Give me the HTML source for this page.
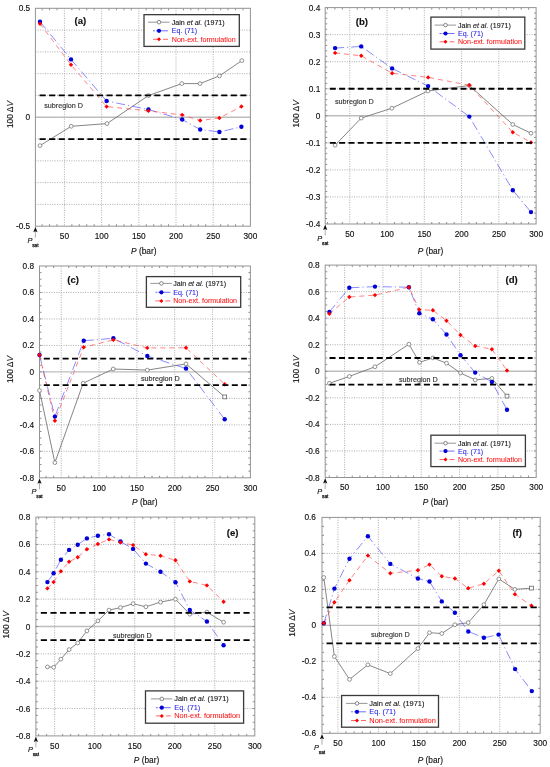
<!DOCTYPE html>
<html><head><meta charset="utf-8"><title>Figure</title>
<style>
html,body{margin:0;padding:0;background:#fff;}
body{width:550px;height:767px;overflow:hidden;}
svg{display:block;will-change:transform;font-family:"Liberation Sans", sans-serif;}
text{stroke-width:0.14px;}
</style></head>
<body>
<svg width="550" height="767" viewBox="0 0 550 767">
<rect width="550" height="767" fill="#fff"/>
<clipPath id="clip_a"><rect x="35.4" y="8.3" width="215" height="217.9"/></clipPath>
<line x1="64.41" y1="8.3" x2="64.41" y2="226.2" stroke="#a4a4a4" stroke-width="0.9" stroke-dasharray="1 1.4"/>
<line x1="101.61" y1="8.3" x2="101.61" y2="226.2" stroke="#a4a4a4" stroke-width="0.9" stroke-dasharray="1 1.4"/>
<line x1="138.81" y1="8.3" x2="138.81" y2="226.2" stroke="#a4a4a4" stroke-width="0.9" stroke-dasharray="1 1.4"/>
<line x1="176.01" y1="8.3" x2="176.01" y2="226.2" stroke="#a4a4a4" stroke-width="0.9" stroke-dasharray="1 1.4"/>
<line x1="213.2" y1="8.3" x2="213.2" y2="226.2" stroke="#a4a4a4" stroke-width="0.9" stroke-dasharray="1 1.4"/>
<line x1="35.4" y1="204.41" x2="250.4" y2="204.41" stroke="#a4a4a4" stroke-width="0.9" stroke-dasharray="1 1.4"/>
<line x1="35.4" y1="182.62" x2="250.4" y2="182.62" stroke="#a4a4a4" stroke-width="0.9" stroke-dasharray="1 1.4"/>
<line x1="35.4" y1="160.83" x2="250.4" y2="160.83" stroke="#a4a4a4" stroke-width="0.9" stroke-dasharray="1 1.4"/>
<line x1="35.4" y1="139.04" x2="250.4" y2="139.04" stroke="#a4a4a4" stroke-width="0.9" stroke-dasharray="1 1.4"/>
<line x1="35.4" y1="95.46" x2="250.4" y2="95.46" stroke="#a4a4a4" stroke-width="0.9" stroke-dasharray="1 1.4"/>
<line x1="35.4" y1="73.67" x2="250.4" y2="73.67" stroke="#a4a4a4" stroke-width="0.9" stroke-dasharray="1 1.4"/>
<line x1="35.4" y1="51.88" x2="250.4" y2="51.88" stroke="#a4a4a4" stroke-width="0.9" stroke-dasharray="1 1.4"/>
<line x1="35.4" y1="30.09" x2="250.4" y2="30.09" stroke="#a4a4a4" stroke-width="0.9" stroke-dasharray="1 1.4"/>
<line x1="35.4" y1="117.25" x2="250.4" y2="117.25" stroke="#bdbdbd" stroke-width="1.4"/>
<path d="M42.1 226.2v-2M42.1 8.3v2M49.53 226.2v-2M49.53 8.3v2M56.97 226.2v-2M56.97 8.3v2M71.85 226.2v-2M71.85 8.3v2M79.29 226.2v-2M79.29 8.3v2M86.73 226.2v-2M86.73 8.3v2M94.17 226.2v-2M94.17 8.3v2M109.05 226.2v-2M109.05 8.3v2M116.49 226.2v-2M116.49 8.3v2M123.93 226.2v-2M123.93 8.3v2M131.37 226.2v-2M131.37 8.3v2M146.25 226.2v-2M146.25 8.3v2M153.69 226.2v-2M153.69 8.3v2M161.13 226.2v-2M161.13 8.3v2M168.57 226.2v-2M168.57 8.3v2M183.44 226.2v-2M183.44 8.3v2M190.88 226.2v-2M190.88 8.3v2M198.32 226.2v-2M198.32 8.3v2M205.76 226.2v-2M205.76 8.3v2M220.64 226.2v-2M220.64 8.3v2M228.08 226.2v-2M228.08 8.3v2M235.52 226.2v-2M235.52 8.3v2M242.96 226.2v-2M242.96 8.3v2" stroke="#707070" stroke-width="0.8" fill="none"/>
<rect x="35.4" y="8.3" width="215" height="217.9" fill="none" stroke="#939393" stroke-width="1.0"/>
<g clip-path="url(#clip_a)">
<polyline points="40,145.6 71.2,126.3 107,123.6 148.4,95.6 181.8,83.6 200,83.6 219.4,75.9 241.8,60.6" fill="none" stroke="#666" stroke-width="0.8"/>
<polyline points="40,21.7 71,59.4 106.6,101 148.4,109.5 182.2,119.5 200.2,129.5 219.4,132 241.4,126.8" fill="none" stroke="#4a4aff" stroke-width="0.65" stroke-dasharray="9 3 1.2 3"/>
<polyline points="40,23.7 71,64.8 106.6,106.6 148.4,110.9 182.2,114.9 200.2,120.5 219.4,118 241.4,106.5" fill="none" stroke="#ff4040" stroke-width="0.65" stroke-dasharray="5 4"/>
</g>
<circle cx="40" cy="145.6" r="1.9" fill="#fff" stroke="#707070" stroke-width="0.75"/>
<circle cx="71.2" cy="126.3" r="1.9" fill="#fff" stroke="#707070" stroke-width="0.75"/>
<circle cx="107" cy="123.6" r="1.9" fill="#fff" stroke="#707070" stroke-width="0.75"/>
<circle cx="148.4" cy="95.6" r="1.9" fill="#fff" stroke="#707070" stroke-width="0.75"/>
<circle cx="181.8" cy="83.6" r="1.9" fill="#fff" stroke="#707070" stroke-width="0.75"/>
<circle cx="200" cy="83.6" r="1.9" fill="#fff" stroke="#707070" stroke-width="0.75"/>
<circle cx="219.4" cy="75.9" r="1.9" fill="#fff" stroke="#707070" stroke-width="0.75"/>
<circle cx="241.8" cy="60.6" r="1.9" fill="#fff" stroke="#707070" stroke-width="0.75"/>
<circle cx="40" cy="21.7" r="2.2" fill="#0000d8"/>
<circle cx="71" cy="59.4" r="2.2" fill="#0000d8"/>
<circle cx="106.6" cy="101" r="2.2" fill="#0000d8"/>
<circle cx="148.4" cy="109.5" r="2.2" fill="#0000d8"/>
<circle cx="182.2" cy="119.5" r="2.2" fill="#0000d8"/>
<circle cx="200.2" cy="129.5" r="2.2" fill="#0000d8"/>
<circle cx="219.4" cy="132" r="2.2" fill="#0000d8"/>
<circle cx="241.4" cy="126.8" r="2.2" fill="#0000d8"/>
<path d="M40 21.5L42.2 23.7L40 25.9L37.8 23.7Z" fill="#ff0000"/>
<path d="M71 62.6L73.2 64.8L71 67L68.8 64.8Z" fill="#ff0000"/>
<path d="M106.6 104.4L108.8 106.6L106.6 108.8L104.4 106.6Z" fill="#ff0000"/>
<path d="M148.4 108.7L150.6 110.9L148.4 113.1L146.2 110.9Z" fill="#ff0000"/>
<path d="M182.2 112.7L184.4 114.9L182.2 117.1L180 114.9Z" fill="#ff0000"/>
<path d="M200.2 118.3L202.4 120.5L200.2 122.7L198 120.5Z" fill="#ff0000"/>
<path d="M219.4 115.8L221.6 118L219.4 120.2L217.2 118Z" fill="#ff0000"/>
<path d="M241.4 104.3L243.6 106.5L241.4 108.7L239.2 106.5Z" fill="#ff0000"/>
<line x1="39.56" y1="95.46" x2="246.9" y2="95.46" stroke="#000" stroke-width="1.8" stroke-dasharray="6.12 3.44"/>
<line x1="39.56" y1="139.04" x2="246.9" y2="139.04" stroke="#000" stroke-width="1.8" stroke-dasharray="6.12 3.44"/>
<rect x="144" y="14.65" width="95.3" height="31.75" fill="#fff" stroke="#3a3a3a" stroke-width="1.3"/>
<line x1="148" y1="22.2" x2="169.5" y2="22.2" stroke="#7c7c7c" stroke-width="0.8"/>
<circle cx="159" cy="22.2" r="1.8" fill="#fff" stroke="#707070" stroke-width="0.85"/>
<line x1="153" y1="30.8" x2="168" y2="30.8" stroke="#4a4aff" stroke-width="0.8" stroke-dasharray="2 1 12 0"/>
<circle cx="159" cy="30.8" r="2.1" fill="#0000d8"/>
<line x1="153" y1="39.3" x2="168" y2="39.3" stroke="#ff4040" stroke-width="0.8" stroke-dasharray="7 3 5 0"/>
<path d="M159 37.3L161 39.3L159 41.3L157 39.3Z" fill="#ff0000"/>
<text x="171.8" y="24.7" font-size="7.1" fill="#111" stroke="#111" style="stroke-width:0.1px">Jain <tspan font-style="italic">et al.</tspan> (1971)</text>
<text x="171.8" y="33.3" font-size="7.1" fill="#2020e8" stroke="#2020e8" style="stroke-width:0.05px">Eq. (71)</text>
<text x="171.8" y="41.8" font-size="7.1" fill="#ff1010" stroke="#ff1010" style="stroke-width:0.05px">Non-ext. formulation</text>
<text x="80.4" y="23.5" font-size="9.6" font-weight="bold" text-anchor="middle" fill="#111" stroke="#111">(a)</text>
<text x="44.2" y="108" font-size="7.2" fill="#333" stroke="#333">subregion D</text>
<text x="30.2" y="11.3" font-size="8.3" text-anchor="end" fill="#111" stroke="#111">0.5</text>
<text x="30.2" y="120.25" font-size="8.3" text-anchor="end" fill="#111" stroke="#111">0</text>
<text x="30.2" y="229.2" font-size="8.3" text-anchor="end" fill="#111" stroke="#111">-0.5</text>
<text x="64.41" y="239" font-size="8.3" text-anchor="middle" fill="#111" stroke="#111">50</text>
<text x="101.61" y="239" font-size="8.3" text-anchor="middle" fill="#111" stroke="#111">100</text>
<text x="138.81" y="239" font-size="8.3" text-anchor="middle" fill="#111" stroke="#111">150</text>
<text x="176.01" y="239" font-size="8.3" text-anchor="middle" fill="#111" stroke="#111">200</text>
<text x="213.2" y="239" font-size="8.3" text-anchor="middle" fill="#111" stroke="#111">250</text>
<text x="250.4" y="239" font-size="8.3" text-anchor="middle" fill="#111" stroke="#111">300</text>
<text x="143.75" y="254.2" font-size="8.3" text-anchor="middle" fill="#111" stroke="#111"><tspan font-style="italic">P</tspan> (bar)</text>
<text transform="translate(13,114.5) rotate(-90)" font-size="8.45" text-anchor="middle" fill="#111" stroke="#111">100 Δ<tspan font-style="italic">V</tspan></text>
<line x1="35.4" y1="231.2" x2="35.4" y2="237.7" stroke="#777" stroke-width="0.6"/>
<path d="M35.4 226.8L37.5 232.2L35.4 231.2L33.3 232.2Z" fill="#111"/>
<text x="27.5" y="242.7" font-size="7.4" font-style="italic" fill="#111" stroke="#111">P</text>
<text x="32.2" y="246.7" font-size="4.8" fill="#111" stroke="#111" style="stroke-width:0.25px">sat</text>
<clipPath id="clip_b"><rect x="325.2" y="7.6" width="210.9" height="216.4"/></clipPath>
<line x1="349.79" y1="7.6" x2="349.79" y2="224" stroke="#a4a4a4" stroke-width="0.9" stroke-dasharray="1 1.4"/>
<line x1="387.05" y1="7.6" x2="387.05" y2="224" stroke="#a4a4a4" stroke-width="0.9" stroke-dasharray="1 1.4"/>
<line x1="424.32" y1="7.6" x2="424.32" y2="224" stroke="#a4a4a4" stroke-width="0.9" stroke-dasharray="1 1.4"/>
<line x1="461.58" y1="7.6" x2="461.58" y2="224" stroke="#a4a4a4" stroke-width="0.9" stroke-dasharray="1 1.4"/>
<line x1="498.84" y1="7.6" x2="498.84" y2="224" stroke="#a4a4a4" stroke-width="0.9" stroke-dasharray="1 1.4"/>
<line x1="325.2" y1="196.95" x2="536.1" y2="196.95" stroke="#a4a4a4" stroke-width="0.9" stroke-dasharray="1 1.4"/>
<line x1="325.2" y1="169.9" x2="536.1" y2="169.9" stroke="#a4a4a4" stroke-width="0.9" stroke-dasharray="1 1.4"/>
<line x1="325.2" y1="142.85" x2="536.1" y2="142.85" stroke="#a4a4a4" stroke-width="0.9" stroke-dasharray="1 1.4"/>
<line x1="325.2" y1="88.75" x2="536.1" y2="88.75" stroke="#a4a4a4" stroke-width="0.9" stroke-dasharray="1 1.4"/>
<line x1="325.2" y1="61.7" x2="536.1" y2="61.7" stroke="#a4a4a4" stroke-width="0.9" stroke-dasharray="1 1.4"/>
<line x1="325.2" y1="34.65" x2="536.1" y2="34.65" stroke="#a4a4a4" stroke-width="0.9" stroke-dasharray="1 1.4"/>
<line x1="325.2" y1="115.8" x2="536.1" y2="115.8" stroke="#bdbdbd" stroke-width="1.4"/>
<path d="M327.44 224v-2M327.44 7.6v2M334.89 224v-2M334.89 7.6v2M342.34 224v-2M342.34 7.6v2M357.24 224v-2M357.24 7.6v2M364.7 224v-2M364.7 7.6v2M372.15 224v-2M372.15 7.6v2M379.6 224v-2M379.6 7.6v2M394.51 224v-2M394.51 7.6v2M401.96 224v-2M401.96 7.6v2M409.41 224v-2M409.41 7.6v2M416.86 224v-2M416.86 7.6v2M431.77 224v-2M431.77 7.6v2M439.22 224v-2M439.22 7.6v2M446.67 224v-2M446.67 7.6v2M454.12 224v-2M454.12 7.6v2M469.03 224v-2M469.03 7.6v2M476.48 224v-2M476.48 7.6v2M483.93 224v-2M483.93 7.6v2M491.39 224v-2M491.39 7.6v2M506.29 224v-2M506.29 7.6v2M513.74 224v-2M513.74 7.6v2M521.2 224v-2M521.2 7.6v2M528.65 224v-2M528.65 7.6v2M325.2 218.59h2M536.1 218.59h-2M325.2 213.18h2M536.1 213.18h-2M325.2 207.77h2M536.1 207.77h-2M325.2 202.36h2M536.1 202.36h-2M325.2 196.95h2M536.1 196.95h-2M325.2 191.54h2M536.1 191.54h-2M325.2 186.13h2M536.1 186.13h-2M325.2 180.72h2M536.1 180.72h-2M325.2 175.31h2M536.1 175.31h-2M325.2 169.9h2M536.1 169.9h-2M325.2 164.49h2M536.1 164.49h-2M325.2 159.08h2M536.1 159.08h-2M325.2 153.67h2M536.1 153.67h-2M325.2 148.26h2M536.1 148.26h-2M325.2 142.85h2M536.1 142.85h-2M325.2 137.44h2M536.1 137.44h-2M325.2 132.03h2M536.1 132.03h-2M325.2 126.62h2M536.1 126.62h-2M325.2 121.21h2M536.1 121.21h-2M325.2 115.8h2M536.1 115.8h-2M325.2 110.39h2M536.1 110.39h-2M325.2 104.98h2M536.1 104.98h-2M325.2 99.57h2M536.1 99.57h-2M325.2 94.16h2M536.1 94.16h-2M325.2 88.75h2M536.1 88.75h-2M325.2 83.34h2M536.1 83.34h-2M325.2 77.93h2M536.1 77.93h-2M325.2 72.52h2M536.1 72.52h-2M325.2 67.11h2M536.1 67.11h-2M325.2 61.7h2M536.1 61.7h-2M325.2 56.29h2M536.1 56.29h-2M325.2 50.88h2M536.1 50.88h-2M325.2 45.47h2M536.1 45.47h-2M325.2 40.06h2M536.1 40.06h-2M325.2 34.65h2M536.1 34.65h-2M325.2 29.24h2M536.1 29.24h-2M325.2 23.83h2M536.1 23.83h-2M325.2 18.42h2M536.1 18.42h-2M325.2 13.01h2M536.1 13.01h-2" stroke="#707070" stroke-width="0.8" fill="none"/>
<rect x="325.2" y="7.6" width="210.9" height="216.4" fill="none" stroke="#939393" stroke-width="1.0"/>
<g clip-path="url(#clip_b)">
<polyline points="335.1,145.2 361.2,118.1 391.9,108.2 427.9,91 469.3,85.5 512.8,124.5 531,133.2" fill="none" stroke="#666" stroke-width="0.8"/>
<polyline points="335.1,48.1 361.2,46.4 392.1,68.4 428.1,86.1 469.3,116.6 512.8,190.2 531,212.1" fill="none" stroke="#4a4aff" stroke-width="0.65" stroke-dasharray="9 3 1.2 3"/>
<polyline points="335.1,52.9 361.2,55.8 392.1,73.2 428.1,77.4 469.3,85.2 512.8,132.2 531,142.4" fill="none" stroke="#ff4040" stroke-width="0.65" stroke-dasharray="5 4"/>
</g>
<circle cx="335.1" cy="145.2" r="1.9" fill="#fff" stroke="#707070" stroke-width="0.75"/>
<circle cx="361.2" cy="118.1" r="1.9" fill="#fff" stroke="#707070" stroke-width="0.75"/>
<circle cx="391.9" cy="108.2" r="1.9" fill="#fff" stroke="#707070" stroke-width="0.75"/>
<circle cx="427.9" cy="91" r="1.9" fill="#fff" stroke="#707070" stroke-width="0.75"/>
<circle cx="469.3" cy="85.5" r="1.9" fill="#fff" stroke="#707070" stroke-width="0.75"/>
<circle cx="512.8" cy="124.5" r="1.9" fill="#fff" stroke="#707070" stroke-width="0.75"/>
<circle cx="531" cy="133.2" r="1.9" fill="#fff" stroke="#707070" stroke-width="0.75"/>
<circle cx="335.1" cy="48.1" r="2.2" fill="#0000d8"/>
<circle cx="361.2" cy="46.4" r="2.2" fill="#0000d8"/>
<circle cx="392.1" cy="68.4" r="2.2" fill="#0000d8"/>
<circle cx="428.1" cy="86.1" r="2.2" fill="#0000d8"/>
<circle cx="469.3" cy="116.6" r="2.2" fill="#0000d8"/>
<circle cx="512.8" cy="190.2" r="2.2" fill="#0000d8"/>
<circle cx="531" cy="212.1" r="2.2" fill="#0000d8"/>
<path d="M335.1 50.7L337.3 52.9L335.1 55.1L332.9 52.9Z" fill="#ff0000"/>
<path d="M361.2 53.6L363.4 55.8L361.2 58L359 55.8Z" fill="#ff0000"/>
<path d="M392.1 71L394.3 73.2L392.1 75.4L389.9 73.2Z" fill="#ff0000"/>
<path d="M428.1 75.2L430.3 77.4L428.1 79.6L425.9 77.4Z" fill="#ff0000"/>
<path d="M469.3 83L471.5 85.2L469.3 87.4L467.1 85.2Z" fill="#ff0000"/>
<path d="M512.8 130L515 132.2L512.8 134.4L510.6 132.2Z" fill="#ff0000"/>
<path d="M531 140.2L533.2 142.4L531 144.6L528.8 142.4Z" fill="#ff0000"/>
<line x1="329.8" y1="88.75" x2="533" y2="88.75" stroke="#000" stroke-width="1.8" stroke-dasharray="5.98 3.36"/>
<line x1="329.8" y1="142.85" x2="533" y2="142.85" stroke="#000" stroke-width="1.8" stroke-dasharray="5.98 3.36"/>
<rect x="430.9" y="17.1" width="93.9" height="32" fill="#fff" stroke="#3a3a3a" stroke-width="1.3"/>
<line x1="434.5" y1="25.1" x2="456" y2="25.1" stroke="#7c7c7c" stroke-width="0.8"/>
<circle cx="445.5" cy="25.1" r="1.8" fill="#fff" stroke="#707070" stroke-width="0.85"/>
<line x1="439.5" y1="33.5" x2="454.5" y2="33.5" stroke="#4a4aff" stroke-width="0.8" stroke-dasharray="2 1 12 0"/>
<circle cx="445.5" cy="33.5" r="2.1" fill="#0000d8"/>
<line x1="439.5" y1="41.8" x2="454.5" y2="41.8" stroke="#ff4040" stroke-width="0.8" stroke-dasharray="7 3 5 0"/>
<path d="M445.5 39.8L447.5 41.8L445.5 43.8L443.5 41.8Z" fill="#ff0000"/>
<text x="458" y="27.6" font-size="7.1" fill="#111" stroke="#111" style="stroke-width:0.1px">Jain <tspan font-style="italic">et al.</tspan> (1971)</text>
<text x="458" y="36" font-size="7.1" fill="#2020e8" stroke="#2020e8" style="stroke-width:0.05px">Eq. (71)</text>
<text x="458" y="44.3" font-size="7.1" fill="#ff1010" stroke="#ff1010" style="stroke-width:0.05px">Non-ext. formulation</text>
<text x="361.9" y="25" font-size="9.6" font-weight="bold" text-anchor="middle" fill="#111" stroke="#111">(b)</text>
<text x="335" y="104.2" font-size="7.2" fill="#333" stroke="#333">subregion D</text>
<text x="320.3" y="227" font-size="8.3" text-anchor="end" fill="#111" stroke="#111">-0.4</text>
<text x="320.3" y="199.95" font-size="8.3" text-anchor="end" fill="#111" stroke="#111">-0.3</text>
<text x="320.3" y="172.9" font-size="8.3" text-anchor="end" fill="#111" stroke="#111">-0.2</text>
<text x="320.3" y="145.85" font-size="8.3" text-anchor="end" fill="#111" stroke="#111">-0.1</text>
<text x="320.3" y="118.8" font-size="8.3" text-anchor="end" fill="#111" stroke="#111">0</text>
<text x="320.3" y="91.75" font-size="8.3" text-anchor="end" fill="#111" stroke="#111">0.1</text>
<text x="320.3" y="64.7" font-size="8.3" text-anchor="end" fill="#111" stroke="#111">0.2</text>
<text x="320.3" y="37.65" font-size="8.3" text-anchor="end" fill="#111" stroke="#111">0.3</text>
<text x="320.3" y="10.6" font-size="8.3" text-anchor="end" fill="#111" stroke="#111">0.4</text>
<text x="349.79" y="236.8" font-size="8.3" text-anchor="middle" fill="#111" stroke="#111">50</text>
<text x="387.05" y="236.8" font-size="8.3" text-anchor="middle" fill="#111" stroke="#111">100</text>
<text x="424.32" y="236.8" font-size="8.3" text-anchor="middle" fill="#111" stroke="#111">150</text>
<text x="461.58" y="236.8" font-size="8.3" text-anchor="middle" fill="#111" stroke="#111">200</text>
<text x="498.84" y="236.8" font-size="8.3" text-anchor="middle" fill="#111" stroke="#111">250</text>
<text x="536.1" y="236.8" font-size="8.3" text-anchor="middle" fill="#111" stroke="#111">300</text>
<text x="430.5" y="254.2" font-size="8.3" text-anchor="middle" fill="#111" stroke="#111"><tspan font-style="italic">P</tspan> (bar)</text>
<text transform="translate(298.5,113.8) rotate(-90)" font-size="8.45" text-anchor="middle" fill="#111" stroke="#111">100 Δ<tspan font-style="italic">V</tspan></text>
<line x1="325.2" y1="229" x2="325.2" y2="235.5" stroke="#777" stroke-width="0.6"/>
<path d="M325.2 224.6L327.3 230L325.2 229L323.1 230Z" fill="#111"/>
<text x="317.3" y="240.5" font-size="7.4" font-style="italic" fill="#111" stroke="#111">P</text>
<text x="322" y="244.5" font-size="4.8" fill="#111" stroke="#111" style="stroke-width:0.25px">sat</text>
<clipPath id="clip_c"><rect x="39.5" y="266" width="210.9" height="211.8"/></clipPath>
<line x1="61.22" y1="266" x2="61.22" y2="477.8" stroke="#a4a4a4" stroke-width="0.9" stroke-dasharray="1 1.4"/>
<line x1="99.05" y1="266" x2="99.05" y2="477.8" stroke="#a4a4a4" stroke-width="0.9" stroke-dasharray="1 1.4"/>
<line x1="136.89" y1="266" x2="136.89" y2="477.8" stroke="#a4a4a4" stroke-width="0.9" stroke-dasharray="1 1.4"/>
<line x1="174.73" y1="266" x2="174.73" y2="477.8" stroke="#a4a4a4" stroke-width="0.9" stroke-dasharray="1 1.4"/>
<line x1="212.56" y1="266" x2="212.56" y2="477.8" stroke="#a4a4a4" stroke-width="0.9" stroke-dasharray="1 1.4"/>
<line x1="39.5" y1="451.32" x2="250.4" y2="451.32" stroke="#a4a4a4" stroke-width="0.9" stroke-dasharray="1 1.4"/>
<line x1="39.5" y1="424.85" x2="250.4" y2="424.85" stroke="#a4a4a4" stroke-width="0.9" stroke-dasharray="1 1.4"/>
<line x1="39.5" y1="398.38" x2="250.4" y2="398.38" stroke="#a4a4a4" stroke-width="0.9" stroke-dasharray="1 1.4"/>
<line x1="39.5" y1="345.43" x2="250.4" y2="345.43" stroke="#a4a4a4" stroke-width="0.9" stroke-dasharray="1 1.4"/>
<line x1="39.5" y1="318.95" x2="250.4" y2="318.95" stroke="#a4a4a4" stroke-width="0.9" stroke-dasharray="1 1.4"/>
<line x1="39.5" y1="292.48" x2="250.4" y2="292.48" stroke="#a4a4a4" stroke-width="0.9" stroke-dasharray="1 1.4"/>
<line x1="39.5" y1="371.9" x2="250.4" y2="371.9" stroke="#bdbdbd" stroke-width="1.4"/>
<path d="M46.08 477.8v-2M46.08 266v2M53.65 477.8v-2M53.65 266v2M68.79 477.8v-2M68.79 266v2M76.35 477.8v-2M76.35 266v2M83.92 477.8v-2M83.92 266v2M91.49 477.8v-2M91.49 266v2M106.62 477.8v-2M106.62 266v2M114.19 477.8v-2M114.19 266v2M121.76 477.8v-2M121.76 266v2M129.32 477.8v-2M129.32 266v2M144.46 477.8v-2M144.46 266v2M152.03 477.8v-2M152.03 266v2M159.59 477.8v-2M159.59 266v2M167.16 477.8v-2M167.16 266v2M182.29 477.8v-2M182.29 266v2M189.86 477.8v-2M189.86 266v2M197.43 477.8v-2M197.43 266v2M205 477.8v-2M205 266v2M220.13 477.8v-2M220.13 266v2M227.7 477.8v-2M227.7 266v2M235.27 477.8v-2M235.27 266v2M242.83 477.8v-2M242.83 266v2M39.5 471.18h2M250.4 471.18h-2M39.5 464.56h2M250.4 464.56h-2M39.5 457.94h2M250.4 457.94h-2M39.5 451.33h2M250.4 451.33h-2M39.5 444.71h2M250.4 444.71h-2M39.5 438.09h2M250.4 438.09h-2M39.5 431.47h2M250.4 431.47h-2M39.5 424.85h2M250.4 424.85h-2M39.5 418.23h2M250.4 418.23h-2M39.5 411.61h2M250.4 411.61h-2M39.5 404.99h2M250.4 404.99h-2M39.5 398.38h2M250.4 398.38h-2M39.5 391.76h2M250.4 391.76h-2M39.5 385.14h2M250.4 385.14h-2M39.5 378.52h2M250.4 378.52h-2M39.5 371.9h2M250.4 371.9h-2M39.5 365.28h2M250.4 365.28h-2M39.5 358.66h2M250.4 358.66h-2M39.5 352.04h2M250.4 352.04h-2M39.5 345.43h2M250.4 345.43h-2M39.5 338.81h2M250.4 338.81h-2M39.5 332.19h2M250.4 332.19h-2M39.5 325.57h2M250.4 325.57h-2M39.5 318.95h2M250.4 318.95h-2M39.5 312.33h2M250.4 312.33h-2M39.5 305.71h2M250.4 305.71h-2M39.5 299.09h2M250.4 299.09h-2M39.5 292.48h2M250.4 292.48h-2M39.5 285.86h2M250.4 285.86h-2M39.5 279.24h2M250.4 279.24h-2M39.5 272.62h2M250.4 272.62h-2" stroke="#707070" stroke-width="0.8" fill="none"/>
<rect x="39.5" y="266" width="210.9" height="211.8" fill="none" stroke="#939393" stroke-width="1.0"/>
<g clip-path="url(#clip_c)">
<polyline points="39.5,390.5 54.9,462.6 83.2,383.2 113.2,369 147.3,370.1 186,363.9 224.7,396.9" fill="none" stroke="#666" stroke-width="0.8"/>
<polyline points="39.5,355 54.9,416.6 83.7,340.8 113.4,338.3 147.3,356 186,368.5 224.7,419.3" fill="none" stroke="#4a4aff" stroke-width="0.65" stroke-dasharray="9 3 1.2 3"/>
<polyline points="39.5,355 54.9,420.8 83.7,347.3 113.4,339.9 147.3,347.9 186,347.8 224.7,384.2" fill="none" stroke="#ff4040" stroke-width="0.65" stroke-dasharray="5 4"/>
</g>
<circle cx="39.5" cy="390.5" r="1.9" fill="#fff" stroke="#707070" stroke-width="0.75"/>
<circle cx="54.9" cy="462.6" r="1.9" fill="#fff" stroke="#707070" stroke-width="0.75"/>
<circle cx="83.2" cy="383.2" r="1.9" fill="#fff" stroke="#707070" stroke-width="0.75"/>
<circle cx="113.2" cy="369" r="1.9" fill="#fff" stroke="#707070" stroke-width="0.75"/>
<circle cx="147.3" cy="370.1" r="1.9" fill="#fff" stroke="#707070" stroke-width="0.75"/>
<circle cx="186" cy="363.9" r="1.9" fill="#fff" stroke="#707070" stroke-width="0.75"/>
<rect x="222.8" y="395" width="3.8" height="3.8" fill="#fff" stroke="#666" stroke-width="0.8"/>
<circle cx="39.5" cy="355" r="2.2" fill="#0000d8"/>
<circle cx="54.9" cy="416.6" r="2.2" fill="#0000d8"/>
<circle cx="83.7" cy="340.8" r="2.2" fill="#0000d8"/>
<circle cx="113.4" cy="338.3" r="2.2" fill="#0000d8"/>
<circle cx="147.3" cy="356" r="2.2" fill="#0000d8"/>
<circle cx="186" cy="368.5" r="2.2" fill="#0000d8"/>
<circle cx="224.7" cy="419.3" r="2.2" fill="#0000d8"/>
<path d="M39.5 352.8L41.7 355L39.5 357.2L37.3 355Z" fill="#ff0000"/>
<path d="M54.9 418.6L57.1 420.8L54.9 423L52.7 420.8Z" fill="#ff0000"/>
<path d="M83.7 345.1L85.9 347.3L83.7 349.5L81.5 347.3Z" fill="#ff0000"/>
<path d="M113.4 337.7L115.6 339.9L113.4 342.1L111.2 339.9Z" fill="#ff0000"/>
<path d="M147.3 345.7L149.5 347.9L147.3 350.1L145.1 347.9Z" fill="#ff0000"/>
<path d="M186 345.6L188.2 347.8L186 350L183.8 347.8Z" fill="#ff0000"/>
<path d="M224.7 382L226.9 384.2L224.7 386.4L222.5 384.2Z" fill="#ff0000"/>
<line x1="43.8" y1="358.66" x2="246.9" y2="358.66" stroke="#000" stroke-width="1.8" stroke-dasharray="6.02 3.38"/>
<line x1="43.8" y1="385.14" x2="246.9" y2="385.14" stroke="#000" stroke-width="1.8" stroke-dasharray="6.02 3.38"/>
<rect x="146.4" y="276.6" width="94.3" height="30.7" fill="#fff" stroke="#3a3a3a" stroke-width="1.3"/>
<line x1="150.4" y1="283.4" x2="171.9" y2="283.4" stroke="#7c7c7c" stroke-width="0.8"/>
<circle cx="161.4" cy="283.4" r="1.8" fill="#fff" stroke="#707070" stroke-width="0.85"/>
<line x1="155.4" y1="292.3" x2="170.4" y2="292.3" stroke="#4a4aff" stroke-width="0.8" stroke-dasharray="2 1 12 0"/>
<circle cx="161.4" cy="292.3" r="2.1" fill="#0000d8"/>
<line x1="155.4" y1="300.9" x2="170.4" y2="300.9" stroke="#ff4040" stroke-width="0.8" stroke-dasharray="7 3 5 0"/>
<path d="M161.4 298.9L163.4 300.9L161.4 302.9L159.4 300.9Z" fill="#ff0000"/>
<text x="173.2" y="285.9" font-size="7.1" fill="#111" stroke="#111" style="stroke-width:0.1px">Jain <tspan font-style="italic">et al.</tspan> (1971)</text>
<text x="173.2" y="294.8" font-size="7.1" fill="#2020e8" stroke="#2020e8" style="stroke-width:0.05px">Eq. (71)</text>
<text x="173.2" y="303.4" font-size="7.1" fill="#ff1010" stroke="#ff1010" style="stroke-width:0.05px">Non-ext. formulation</text>
<text x="73.2" y="283" font-size="9.6" font-weight="bold" text-anchor="middle" fill="#111" stroke="#111">(c)</text>
<text x="141" y="380.6" font-size="7.2" fill="#333" stroke="#333">subregion D</text>
<text x="34.1" y="480.8" font-size="8.3" text-anchor="end" fill="#111" stroke="#111">-0.8</text>
<text x="34.1" y="454.32" font-size="8.3" text-anchor="end" fill="#111" stroke="#111">-0.6</text>
<text x="34.1" y="427.85" font-size="8.3" text-anchor="end" fill="#111" stroke="#111">-0.4</text>
<text x="34.1" y="401.38" font-size="8.3" text-anchor="end" fill="#111" stroke="#111">-0.2</text>
<text x="34.1" y="374.9" font-size="8.3" text-anchor="end" fill="#111" stroke="#111">0</text>
<text x="34.1" y="348.43" font-size="8.3" text-anchor="end" fill="#111" stroke="#111">0.2</text>
<text x="34.1" y="321.95" font-size="8.3" text-anchor="end" fill="#111" stroke="#111">0.4</text>
<text x="34.1" y="295.48" font-size="8.3" text-anchor="end" fill="#111" stroke="#111">0.6</text>
<text x="34.1" y="269" font-size="8.3" text-anchor="end" fill="#111" stroke="#111">0.8</text>
<text x="61.22" y="490.6" font-size="8.3" text-anchor="middle" fill="#111" stroke="#111">50</text>
<text x="99.05" y="490.6" font-size="8.3" text-anchor="middle" fill="#111" stroke="#111">100</text>
<text x="136.89" y="490.6" font-size="8.3" text-anchor="middle" fill="#111" stroke="#111">150</text>
<text x="174.73" y="490.6" font-size="8.3" text-anchor="middle" fill="#111" stroke="#111">200</text>
<text x="212.56" y="490.6" font-size="8.3" text-anchor="middle" fill="#111" stroke="#111">250</text>
<text x="250.4" y="490.6" font-size="8.3" text-anchor="middle" fill="#111" stroke="#111">300</text>
<text x="144.8" y="505" font-size="8.3" text-anchor="middle" fill="#111" stroke="#111"><tspan font-style="italic">P</tspan> (bar)</text>
<text transform="translate(12.8,369.5) rotate(-90)" font-size="8.45" text-anchor="middle" fill="#111" stroke="#111">100 Δ<tspan font-style="italic">V</tspan></text>
<line x1="39.5" y1="482.8" x2="39.5" y2="489.3" stroke="#777" stroke-width="0.6"/>
<path d="M39.5 478.4L41.6 483.8L39.5 482.8L37.4 483.8Z" fill="#111"/>
<text x="31.6" y="494.3" font-size="7.4" font-style="italic" fill="#111" stroke="#111">P</text>
<text x="36.3" y="498.3" font-size="4.8" fill="#111" stroke="#111" style="stroke-width:0.25px">sat</text>
<clipPath id="clip_d"><rect x="325.2" y="265.1" width="211" height="212.4"/></clipPath>
<line x1="344.59" y1="265.1" x2="344.59" y2="477.5" stroke="#a4a4a4" stroke-width="0.9" stroke-dasharray="1 1.4"/>
<line x1="382.91" y1="265.1" x2="382.91" y2="477.5" stroke="#a4a4a4" stroke-width="0.9" stroke-dasharray="1 1.4"/>
<line x1="421.23" y1="265.1" x2="421.23" y2="477.5" stroke="#a4a4a4" stroke-width="0.9" stroke-dasharray="1 1.4"/>
<line x1="459.56" y1="265.1" x2="459.56" y2="477.5" stroke="#a4a4a4" stroke-width="0.9" stroke-dasharray="1 1.4"/>
<line x1="497.88" y1="265.1" x2="497.88" y2="477.5" stroke="#a4a4a4" stroke-width="0.9" stroke-dasharray="1 1.4"/>
<line x1="325.2" y1="450.95" x2="536.2" y2="450.95" stroke="#a4a4a4" stroke-width="0.9" stroke-dasharray="1 1.4"/>
<line x1="325.2" y1="424.4" x2="536.2" y2="424.4" stroke="#a4a4a4" stroke-width="0.9" stroke-dasharray="1 1.4"/>
<line x1="325.2" y1="397.85" x2="536.2" y2="397.85" stroke="#a4a4a4" stroke-width="0.9" stroke-dasharray="1 1.4"/>
<line x1="325.2" y1="344.75" x2="536.2" y2="344.75" stroke="#a4a4a4" stroke-width="0.9" stroke-dasharray="1 1.4"/>
<line x1="325.2" y1="318.2" x2="536.2" y2="318.2" stroke="#a4a4a4" stroke-width="0.9" stroke-dasharray="1 1.4"/>
<line x1="325.2" y1="291.65" x2="536.2" y2="291.65" stroke="#a4a4a4" stroke-width="0.9" stroke-dasharray="1 1.4"/>
<line x1="325.2" y1="371.3" x2="536.2" y2="371.3" stroke="#bdbdbd" stroke-width="1.4"/>
<path d="M329.26 477.5v-2M329.26 265.1v2M336.93 477.5v-2M336.93 265.1v2M352.26 477.5v-2M352.26 265.1v2M359.92 477.5v-2M359.92 265.1v2M367.58 477.5v-2M367.58 265.1v2M375.25 477.5v-2M375.25 265.1v2M390.58 477.5v-2M390.58 265.1v2M398.24 477.5v-2M398.24 265.1v2M405.91 477.5v-2M405.91 265.1v2M413.57 477.5v-2M413.57 265.1v2M428.9 477.5v-2M428.9 265.1v2M436.56 477.5v-2M436.56 265.1v2M444.23 477.5v-2M444.23 265.1v2M451.89 477.5v-2M451.89 265.1v2M467.22 477.5v-2M467.22 265.1v2M474.89 477.5v-2M474.89 265.1v2M482.55 477.5v-2M482.55 265.1v2M490.21 477.5v-2M490.21 265.1v2M505.54 477.5v-2M505.54 265.1v2M513.21 477.5v-2M513.21 265.1v2M520.87 477.5v-2M520.87 265.1v2M528.54 477.5v-2M528.54 265.1v2M325.2 470.86h2M536.2 470.86h-2M325.2 464.23h2M536.2 464.23h-2M325.2 457.59h2M536.2 457.59h-2M325.2 450.95h2M536.2 450.95h-2M325.2 444.31h2M536.2 444.31h-2M325.2 437.68h2M536.2 437.68h-2M325.2 431.04h2M536.2 431.04h-2M325.2 424.4h2M536.2 424.4h-2M325.2 417.76h2M536.2 417.76h-2M325.2 411.12h2M536.2 411.12h-2M325.2 404.49h2M536.2 404.49h-2M325.2 397.85h2M536.2 397.85h-2M325.2 391.21h2M536.2 391.21h-2M325.2 384.58h2M536.2 384.58h-2M325.2 377.94h2M536.2 377.94h-2M325.2 371.3h2M536.2 371.3h-2M325.2 364.66h2M536.2 364.66h-2M325.2 358.02h2M536.2 358.02h-2M325.2 351.39h2M536.2 351.39h-2M325.2 344.75h2M536.2 344.75h-2M325.2 338.11h2M536.2 338.11h-2M325.2 331.48h2M536.2 331.48h-2M325.2 324.84h2M536.2 324.84h-2M325.2 318.2h2M536.2 318.2h-2M325.2 311.56h2M536.2 311.56h-2M325.2 304.93h2M536.2 304.93h-2M325.2 298.29h2M536.2 298.29h-2M325.2 291.65h2M536.2 291.65h-2M325.2 285.01h2M536.2 285.01h-2M325.2 278.38h2M536.2 278.38h-2M325.2 271.74h2M536.2 271.74h-2" stroke="#707070" stroke-width="0.8" fill="none"/>
<rect x="325.2" y="265.1" width="211" height="212.4" fill="none" stroke="#939393" stroke-width="1.0"/>
<g clip-path="url(#clip_d)">
<polyline points="329.4,383.3 349.3,376.4 374.9,366.8 408.9,344.2 419.5,362.4 432.9,357.9 446.5,363.2 460.5,373 475.2,379.9 491.9,378.4 507,396.1" fill="none" stroke="#666" stroke-width="0.8"/>
<polyline points="329.4,311.9 349.3,287.8 375,286.6 408.9,287.2 419.3,313.3 432.9,319.3 446.5,334.5 460.5,355.2 475.2,372.6 491.9,382 507,409.7" fill="none" stroke="#4a4aff" stroke-width="0.65" stroke-dasharray="9 3 1.2 3"/>
<polyline points="329.4,313.7 349.3,297 375,295.1 408.9,287.2 419.3,309.6 432.9,310.3 446.5,320.7 460.5,335 475.2,346 491.9,349.2 507,370.5" fill="none" stroke="#ff4040" stroke-width="0.65" stroke-dasharray="5 4"/>
</g>
<circle cx="329.4" cy="383.3" r="1.9" fill="#fff" stroke="#707070" stroke-width="0.75"/>
<circle cx="349.3" cy="376.4" r="1.9" fill="#fff" stroke="#707070" stroke-width="0.75"/>
<circle cx="374.9" cy="366.8" r="1.9" fill="#fff" stroke="#707070" stroke-width="0.75"/>
<circle cx="408.9" cy="344.2" r="1.9" fill="#fff" stroke="#707070" stroke-width="0.75"/>
<circle cx="419.5" cy="362.4" r="1.9" fill="#fff" stroke="#707070" stroke-width="0.75"/>
<circle cx="432.9" cy="357.9" r="1.9" fill="#fff" stroke="#707070" stroke-width="0.75"/>
<circle cx="446.5" cy="363.2" r="1.9" fill="#fff" stroke="#707070" stroke-width="0.75"/>
<circle cx="460.5" cy="373" r="1.9" fill="#fff" stroke="#707070" stroke-width="0.75"/>
<circle cx="475.2" cy="379.9" r="1.9" fill="#fff" stroke="#707070" stroke-width="0.75"/>
<circle cx="491.9" cy="378.4" r="1.9" fill="#fff" stroke="#707070" stroke-width="0.75"/>
<rect x="505.1" y="394.2" width="3.8" height="3.8" fill="#fff" stroke="#666" stroke-width="0.8"/>
<circle cx="329.4" cy="311.9" r="2.2" fill="#0000d8"/>
<circle cx="349.3" cy="287.8" r="2.2" fill="#0000d8"/>
<circle cx="375" cy="286.6" r="2.2" fill="#0000d8"/>
<circle cx="408.9" cy="287.2" r="2.2" fill="#0000d8"/>
<circle cx="419.3" cy="313.3" r="2.2" fill="#0000d8"/>
<circle cx="432.9" cy="319.3" r="2.2" fill="#0000d8"/>
<circle cx="446.5" cy="334.5" r="2.2" fill="#0000d8"/>
<circle cx="460.5" cy="355.2" r="2.2" fill="#0000d8"/>
<circle cx="475.2" cy="372.6" r="2.2" fill="#0000d8"/>
<circle cx="491.9" cy="382" r="2.2" fill="#0000d8"/>
<circle cx="507" cy="409.7" r="2.2" fill="#0000d8"/>
<path d="M329.4 311.5L331.6 313.7L329.4 315.9L327.2 313.7Z" fill="#ff0000"/>
<path d="M349.3 294.8L351.5 297L349.3 299.2L347.1 297Z" fill="#ff0000"/>
<path d="M375 292.9L377.2 295.1L375 297.3L372.8 295.1Z" fill="#ff0000"/>
<path d="M408.9 285L411.1 287.2L408.9 289.4L406.7 287.2Z" fill="#ff0000"/>
<path d="M419.3 307.4L421.5 309.6L419.3 311.8L417.1 309.6Z" fill="#ff0000"/>
<path d="M432.9 308.1L435.1 310.3L432.9 312.5L430.7 310.3Z" fill="#ff0000"/>
<path d="M446.5 318.5L448.7 320.7L446.5 322.9L444.3 320.7Z" fill="#ff0000"/>
<path d="M460.5 332.8L462.7 335L460.5 337.2L458.3 335Z" fill="#ff0000"/>
<path d="M475.2 343.8L477.4 346L475.2 348.2L473 346Z" fill="#ff0000"/>
<path d="M491.9 347L494.1 349.2L491.9 351.4L489.7 349.2Z" fill="#ff0000"/>
<path d="M507 368.3L509.2 370.5L507 372.7L504.8 370.5Z" fill="#ff0000"/>
<line x1="329.5" y1="358.02" x2="532.6" y2="358.02" stroke="#000" stroke-width="1.8" stroke-dasharray="6.04 3.4"/>
<line x1="329.5" y1="384.58" x2="532.6" y2="384.58" stroke="#000" stroke-width="1.8" stroke-dasharray="6.04 3.4"/>
<rect x="430.9" y="435.2" width="94.5" height="31.4" fill="#fff" stroke="#3a3a3a" stroke-width="1.3"/>
<line x1="434.5" y1="443.2" x2="456" y2="443.2" stroke="#7c7c7c" stroke-width="0.8"/>
<circle cx="445.5" cy="443.2" r="1.8" fill="#fff" stroke="#707070" stroke-width="0.85"/>
<line x1="439.5" y1="451.1" x2="454.5" y2="451.1" stroke="#4a4aff" stroke-width="0.8" stroke-dasharray="2 1 12 0"/>
<circle cx="445.5" cy="451.1" r="2.1" fill="#0000d8"/>
<line x1="439.5" y1="459.5" x2="454.5" y2="459.5" stroke="#ff4040" stroke-width="0.8" stroke-dasharray="7 3 5 0"/>
<path d="M445.5 457.5L447.5 459.5L445.5 461.5L443.5 459.5Z" fill="#ff0000"/>
<text x="458" y="445.7" font-size="7.1" fill="#111" stroke="#111" style="stroke-width:0.1px">Jain <tspan font-style="italic">et al.</tspan> (1971)</text>
<text x="458" y="453.6" font-size="7.1" fill="#2020e8" stroke="#2020e8" style="stroke-width:0.05px">Eq. (71)</text>
<text x="458" y="462" font-size="7.1" fill="#ff1010" stroke="#ff1010" style="stroke-width:0.05px">Non-ext. formulation</text>
<text x="511.7" y="282.8" font-size="9.6" font-weight="bold" text-anchor="middle" fill="#111" stroke="#111">(d)</text>
<text x="399" y="381.6" font-size="7.2" fill="#333" stroke="#333">subregion D</text>
<text x="319.7" y="480.5" font-size="8.3" text-anchor="end" fill="#111" stroke="#111">-0.8</text>
<text x="319.7" y="453.95" font-size="8.3" text-anchor="end" fill="#111" stroke="#111">-0.6</text>
<text x="319.7" y="427.4" font-size="8.3" text-anchor="end" fill="#111" stroke="#111">-0.4</text>
<text x="319.7" y="400.85" font-size="8.3" text-anchor="end" fill="#111" stroke="#111">-0.2</text>
<text x="319.7" y="374.3" font-size="8.3" text-anchor="end" fill="#111" stroke="#111">0</text>
<text x="319.7" y="347.75" font-size="8.3" text-anchor="end" fill="#111" stroke="#111">0.2</text>
<text x="319.7" y="321.2" font-size="8.3" text-anchor="end" fill="#111" stroke="#111">0.4</text>
<text x="319.7" y="294.65" font-size="8.3" text-anchor="end" fill="#111" stroke="#111">0.6</text>
<text x="319.7" y="268.1" font-size="8.3" text-anchor="end" fill="#111" stroke="#111">0.8</text>
<text x="344.59" y="490.3" font-size="8.3" text-anchor="middle" fill="#111" stroke="#111">50</text>
<text x="382.91" y="490.3" font-size="8.3" text-anchor="middle" fill="#111" stroke="#111">100</text>
<text x="421.23" y="490.3" font-size="8.3" text-anchor="middle" fill="#111" stroke="#111">150</text>
<text x="459.56" y="490.3" font-size="8.3" text-anchor="middle" fill="#111" stroke="#111">200</text>
<text x="497.88" y="490.3" font-size="8.3" text-anchor="middle" fill="#111" stroke="#111">250</text>
<text x="536.2" y="490.3" font-size="8.3" text-anchor="middle" fill="#111" stroke="#111">300</text>
<text x="435.5" y="504.7" font-size="8.3" text-anchor="middle" fill="#111" stroke="#111"><tspan font-style="italic">P</tspan> (bar)</text>
<text transform="translate(298.5,369.3) rotate(-90)" font-size="8.45" text-anchor="middle" fill="#111" stroke="#111">100 Δ<tspan font-style="italic">V</tspan></text>
<line x1="325.2" y1="482.5" x2="325.2" y2="489" stroke="#777" stroke-width="0.6"/>
<path d="M325.2 478.1L327.3 483.5L325.2 482.5L323.1 483.5Z" fill="#111"/>
<text x="317.3" y="494" font-size="7.4" font-style="italic" fill="#111" stroke="#111">P</text>
<text x="322" y="498" font-size="4.8" fill="#111" stroke="#111" style="stroke-width:0.25px">sat</text>
<clipPath id="clip_e"><rect x="35.9" y="517.1" width="218.9" height="218.8"/></clipPath>
<line x1="54.64" y1="517.1" x2="54.64" y2="735.9" stroke="#a4a4a4" stroke-width="0.9" stroke-dasharray="1 1.4"/>
<line x1="94.67" y1="517.1" x2="94.67" y2="735.9" stroke="#a4a4a4" stroke-width="0.9" stroke-dasharray="1 1.4"/>
<line x1="134.7" y1="517.1" x2="134.7" y2="735.9" stroke="#a4a4a4" stroke-width="0.9" stroke-dasharray="1 1.4"/>
<line x1="174.73" y1="517.1" x2="174.73" y2="735.9" stroke="#a4a4a4" stroke-width="0.9" stroke-dasharray="1 1.4"/>
<line x1="214.77" y1="517.1" x2="214.77" y2="735.9" stroke="#a4a4a4" stroke-width="0.9" stroke-dasharray="1 1.4"/>
<line x1="35.9" y1="708.55" x2="254.8" y2="708.55" stroke="#a4a4a4" stroke-width="0.9" stroke-dasharray="1 1.4"/>
<line x1="35.9" y1="681.2" x2="254.8" y2="681.2" stroke="#a4a4a4" stroke-width="0.9" stroke-dasharray="1 1.4"/>
<line x1="35.9" y1="653.85" x2="254.8" y2="653.85" stroke="#a4a4a4" stroke-width="0.9" stroke-dasharray="1 1.4"/>
<line x1="35.9" y1="599.15" x2="254.8" y2="599.15" stroke="#a4a4a4" stroke-width="0.9" stroke-dasharray="1 1.4"/>
<line x1="35.9" y1="571.8" x2="254.8" y2="571.8" stroke="#a4a4a4" stroke-width="0.9" stroke-dasharray="1 1.4"/>
<line x1="35.9" y1="544.45" x2="254.8" y2="544.45" stroke="#a4a4a4" stroke-width="0.9" stroke-dasharray="1 1.4"/>
<line x1="35.9" y1="626.5" x2="254.8" y2="626.5" stroke="#bdbdbd" stroke-width="1.4"/>
<path d="M38.62 735.9v-2M38.62 517.1v2M46.63 735.9v-2M46.63 517.1v2M62.64 735.9v-2M62.64 517.1v2M70.65 735.9v-2M70.65 517.1v2M78.66 735.9v-2M78.66 517.1v2M86.66 735.9v-2M86.66 517.1v2M102.67 735.9v-2M102.67 517.1v2M110.68 735.9v-2M110.68 517.1v2M118.69 735.9v-2M118.69 517.1v2M126.69 735.9v-2M126.69 517.1v2M142.71 735.9v-2M142.71 517.1v2M150.71 735.9v-2M150.71 517.1v2M158.72 735.9v-2M158.72 517.1v2M166.73 735.9v-2M166.73 517.1v2M182.74 735.9v-2M182.74 517.1v2M190.75 735.9v-2M190.75 517.1v2M198.75 735.9v-2M198.75 517.1v2M206.76 735.9v-2M206.76 517.1v2M222.77 735.9v-2M222.77 517.1v2M230.78 735.9v-2M230.78 517.1v2M238.79 735.9v-2M238.79 517.1v2M246.79 735.9v-2M246.79 517.1v2M35.9 729.06h2M254.8 729.06h-2M35.9 722.23h2M254.8 722.23h-2M35.9 715.39h2M254.8 715.39h-2M35.9 708.55h2M254.8 708.55h-2M35.9 701.71h2M254.8 701.71h-2M35.9 694.88h2M254.8 694.88h-2M35.9 688.04h2M254.8 688.04h-2M35.9 681.2h2M254.8 681.2h-2M35.9 674.36h2M254.8 674.36h-2M35.9 667.52h2M254.8 667.52h-2M35.9 660.69h2M254.8 660.69h-2M35.9 653.85h2M254.8 653.85h-2M35.9 647.01h2M254.8 647.01h-2M35.9 640.17h2M254.8 640.17h-2M35.9 633.34h2M254.8 633.34h-2M35.9 626.5h2M254.8 626.5h-2M35.9 619.66h2M254.8 619.66h-2M35.9 612.83h2M254.8 612.83h-2M35.9 605.99h2M254.8 605.99h-2M35.9 599.15h2M254.8 599.15h-2M35.9 592.31h2M254.8 592.31h-2M35.9 585.48h2M254.8 585.48h-2M35.9 578.64h2M254.8 578.64h-2M35.9 571.8h2M254.8 571.8h-2M35.9 564.96h2M254.8 564.96h-2M35.9 558.12h2M254.8 558.12h-2M35.9 551.29h2M254.8 551.29h-2M35.9 544.45h2M254.8 544.45h-2M35.9 537.61h2M254.8 537.61h-2M35.9 530.78h2M254.8 530.78h-2M35.9 523.94h2M254.8 523.94h-2" stroke="#707070" stroke-width="0.8" fill="none"/>
<rect x="35.9" y="517.1" width="218.9" height="218.8" fill="none" stroke="#939393" stroke-width="1.0"/>
<g clip-path="url(#clip_e)">
<polyline points="47.4,666.9 53.6,667.3 60.9,659.2 69.1,649.6 77.7,642.9 86.9,630.9 97.9,620.9 109,610.1 120.5,607.6 133.1,603.7 145.9,606.8 160.5,602.1 175.5,599.2 189.8,614.2 206.9,612.1 223.6,622.2" fill="none" stroke="#666" stroke-width="0.8"/>
<polyline points="47.4,582.1 53.6,573.3 60.9,559.7 69.1,549.9 77.7,544.7 86.9,538.4 97.9,535.7 109,534.2 120.5,541.5 133.1,548.9 145.9,563.6 160.5,571.8 175.5,582.2 189.8,610 206.9,621.5 223.6,645.2" fill="none" stroke="#4a4aff" stroke-width="0.65" stroke-dasharray="9 3 1.2 3"/>
<polyline points="47.4,588.4 53.6,582.1 60.9,571.2 69.1,561.8 77.7,557.2 86.9,549.3 97.9,544 109,539.4 120.5,542.4 133.1,545.1 145.9,554.2 160.5,555.7 175.5,560.3 189.8,581.4 206.9,585.4 223.6,601.7" fill="none" stroke="#ff4040" stroke-width="0.65" stroke-dasharray="5 4"/>
</g>
<circle cx="47.4" cy="666.9" r="1.9" fill="#fff" stroke="#707070" stroke-width="0.75"/>
<circle cx="53.6" cy="667.3" r="1.9" fill="#fff" stroke="#707070" stroke-width="0.75"/>
<circle cx="60.9" cy="659.2" r="1.9" fill="#fff" stroke="#707070" stroke-width="0.75"/>
<circle cx="69.1" cy="649.6" r="1.9" fill="#fff" stroke="#707070" stroke-width="0.75"/>
<circle cx="77.7" cy="642.9" r="1.9" fill="#fff" stroke="#707070" stroke-width="0.75"/>
<circle cx="86.9" cy="630.9" r="1.9" fill="#fff" stroke="#707070" stroke-width="0.75"/>
<circle cx="97.9" cy="620.9" r="1.9" fill="#fff" stroke="#707070" stroke-width="0.75"/>
<circle cx="109" cy="610.1" r="1.9" fill="#fff" stroke="#707070" stroke-width="0.75"/>
<circle cx="120.5" cy="607.6" r="1.9" fill="#fff" stroke="#707070" stroke-width="0.75"/>
<circle cx="133.1" cy="603.7" r="1.9" fill="#fff" stroke="#707070" stroke-width="0.75"/>
<circle cx="145.9" cy="606.8" r="1.9" fill="#fff" stroke="#707070" stroke-width="0.75"/>
<circle cx="160.5" cy="602.1" r="1.9" fill="#fff" stroke="#707070" stroke-width="0.75"/>
<circle cx="175.5" cy="599.2" r="1.9" fill="#fff" stroke="#707070" stroke-width="0.75"/>
<circle cx="189.8" cy="614.2" r="1.9" fill="#fff" stroke="#707070" stroke-width="0.75"/>
<circle cx="206.9" cy="612.1" r="1.9" fill="#fff" stroke="#707070" stroke-width="0.75"/>
<circle cx="223.6" cy="622.2" r="1.9" fill="#fff" stroke="#707070" stroke-width="0.75"/>
<circle cx="47.4" cy="582.1" r="2.2" fill="#0000d8"/>
<circle cx="53.6" cy="573.3" r="2.2" fill="#0000d8"/>
<circle cx="60.9" cy="559.7" r="2.2" fill="#0000d8"/>
<circle cx="69.1" cy="549.9" r="2.2" fill="#0000d8"/>
<circle cx="77.7" cy="544.7" r="2.2" fill="#0000d8"/>
<circle cx="86.9" cy="538.4" r="2.2" fill="#0000d8"/>
<circle cx="97.9" cy="535.7" r="2.2" fill="#0000d8"/>
<circle cx="109" cy="534.2" r="2.2" fill="#0000d8"/>
<circle cx="120.5" cy="541.5" r="2.2" fill="#0000d8"/>
<circle cx="133.1" cy="548.9" r="2.2" fill="#0000d8"/>
<circle cx="145.9" cy="563.6" r="2.2" fill="#0000d8"/>
<circle cx="160.5" cy="571.8" r="2.2" fill="#0000d8"/>
<circle cx="175.5" cy="582.2" r="2.2" fill="#0000d8"/>
<circle cx="189.8" cy="610" r="2.2" fill="#0000d8"/>
<circle cx="206.9" cy="621.5" r="2.2" fill="#0000d8"/>
<circle cx="223.6" cy="645.2" r="2.2" fill="#0000d8"/>
<path d="M47.4 586.2L49.6 588.4L47.4 590.6L45.2 588.4Z" fill="#ff0000"/>
<path d="M53.6 579.9L55.8 582.1L53.6 584.3L51.4 582.1Z" fill="#ff0000"/>
<path d="M60.9 569L63.1 571.2L60.9 573.4L58.7 571.2Z" fill="#ff0000"/>
<path d="M69.1 559.6L71.3 561.8L69.1 564L66.9 561.8Z" fill="#ff0000"/>
<path d="M77.7 555L79.9 557.2L77.7 559.4L75.5 557.2Z" fill="#ff0000"/>
<path d="M86.9 547.1L89.1 549.3L86.9 551.5L84.7 549.3Z" fill="#ff0000"/>
<path d="M97.9 541.8L100.1 544L97.9 546.2L95.7 544Z" fill="#ff0000"/>
<path d="M109 537.2L111.2 539.4L109 541.6L106.8 539.4Z" fill="#ff0000"/>
<path d="M120.5 540.2L122.7 542.4L120.5 544.6L118.3 542.4Z" fill="#ff0000"/>
<path d="M133.1 542.9L135.3 545.1L133.1 547.3L130.9 545.1Z" fill="#ff0000"/>
<path d="M145.9 552L148.1 554.2L145.9 556.4L143.7 554.2Z" fill="#ff0000"/>
<path d="M160.5 553.5L162.7 555.7L160.5 557.9L158.3 555.7Z" fill="#ff0000"/>
<path d="M175.5 558.1L177.7 560.3L175.5 562.5L173.3 560.3Z" fill="#ff0000"/>
<path d="M189.8 579.2L192 581.4L189.8 583.6L187.6 581.4Z" fill="#ff0000"/>
<path d="M206.9 583.2L209.1 585.4L206.9 587.6L204.7 585.4Z" fill="#ff0000"/>
<path d="M223.6 599.5L225.8 601.7L223.6 603.9L221.4 601.7Z" fill="#ff0000"/>
<line x1="40.8" y1="612.83" x2="251.1" y2="612.83" stroke="#000" stroke-width="1.8" stroke-dasharray="6.18 3.47"/>
<line x1="40.8" y1="640.17" x2="251.1" y2="640.17" stroke="#000" stroke-width="1.8" stroke-dasharray="6.18 3.47"/>
<rect x="145.5" y="690.9" width="98.1" height="32.3" fill="#fff" stroke="#3a3a3a" stroke-width="1.3"/>
<line x1="150.8" y1="698.9" x2="172.3" y2="698.9" stroke="#7c7c7c" stroke-width="0.8"/>
<circle cx="161.8" cy="698.9" r="1.8" fill="#fff" stroke="#707070" stroke-width="0.85"/>
<line x1="155.8" y1="707.7" x2="170.8" y2="707.7" stroke="#4a4aff" stroke-width="0.8" stroke-dasharray="2 1 12 0"/>
<circle cx="161.8" cy="707.7" r="2.1" fill="#0000d8"/>
<line x1="155.8" y1="715.9" x2="170.8" y2="715.9" stroke="#ff4040" stroke-width="0.8" stroke-dasharray="7 3 5 0"/>
<path d="M161.8 713.9L163.8 715.9L161.8 717.9L159.8 715.9Z" fill="#ff0000"/>
<text x="174.3" y="701.4" font-size="7.3" fill="#111" stroke="#111" style="stroke-width:0.1px">Jain <tspan font-style="italic">et al.</tspan> (1971)</text>
<text x="174.3" y="710.2" font-size="7.3" fill="#2020e8" stroke="#2020e8" style="stroke-width:0.05px">Eq. (71)</text>
<text x="174.3" y="718.4" font-size="7.3" fill="#ff1010" stroke="#ff1010" style="stroke-width:0.05px">Non-ext. formulation</text>
<text x="232.7" y="536" font-size="9.6" font-weight="bold" text-anchor="middle" fill="#111" stroke="#111">(e)</text>
<text x="113" y="637.6" font-size="7.2" fill="#333" stroke="#333">subregion D</text>
<text x="30.3" y="738.9" font-size="8.3" text-anchor="end" fill="#111" stroke="#111">-0.8</text>
<text x="30.3" y="711.55" font-size="8.3" text-anchor="end" fill="#111" stroke="#111">-0.6</text>
<text x="30.3" y="684.2" font-size="8.3" text-anchor="end" fill="#111" stroke="#111">-0.4</text>
<text x="30.3" y="656.85" font-size="8.3" text-anchor="end" fill="#111" stroke="#111">-0.2</text>
<text x="30.3" y="629.5" font-size="8.3" text-anchor="end" fill="#111" stroke="#111">0</text>
<text x="30.3" y="602.15" font-size="8.3" text-anchor="end" fill="#111" stroke="#111">0.2</text>
<text x="30.3" y="574.8" font-size="8.3" text-anchor="end" fill="#111" stroke="#111">0.4</text>
<text x="30.3" y="547.45" font-size="8.3" text-anchor="end" fill="#111" stroke="#111">0.6</text>
<text x="30.3" y="520.1" font-size="8.3" text-anchor="end" fill="#111" stroke="#111">0.8</text>
<text x="54.64" y="748.7" font-size="8.3" text-anchor="middle" fill="#111" stroke="#111">50</text>
<text x="94.67" y="748.7" font-size="8.3" text-anchor="middle" fill="#111" stroke="#111">100</text>
<text x="134.7" y="748.7" font-size="8.3" text-anchor="middle" fill="#111" stroke="#111">150</text>
<text x="174.73" y="748.7" font-size="8.3" text-anchor="middle" fill="#111" stroke="#111">200</text>
<text x="214.77" y="748.7" font-size="8.3" text-anchor="middle" fill="#111" stroke="#111">250</text>
<text x="254.8" y="748.7" font-size="8.3" text-anchor="middle" fill="#111" stroke="#111">300</text>
<text x="146.5" y="763.3" font-size="8.3" text-anchor="middle" fill="#111" stroke="#111"><tspan font-style="italic">P</tspan> (bar)</text>
<text transform="translate(8.7,624.8) rotate(-90)" font-size="8.45" text-anchor="middle" fill="#111" stroke="#111">100 Δ<tspan font-style="italic">V</tspan></text>
<line x1="35.9" y1="740.9" x2="35.9" y2="747.4" stroke="#777" stroke-width="0.6"/>
<path d="M35.9 736.5L38 741.9L35.9 740.9L33.8 741.9Z" fill="#111"/>
<text x="28" y="752.4" font-size="7.4" font-style="italic" fill="#111" stroke="#111">P</text>
<text x="32.7" y="756.4" font-size="4.8" fill="#111" stroke="#111" style="stroke-width:0.25px">sat</text>
<clipPath id="clip_f"><rect x="322" y="517.4" width="218.2" height="215.9"/></clipPath>
<line x1="337.94" y1="517.4" x2="337.94" y2="733.3" stroke="#a4a4a4" stroke-width="0.9" stroke-dasharray="1 1.4"/>
<line x1="378.39" y1="517.4" x2="378.39" y2="733.3" stroke="#a4a4a4" stroke-width="0.9" stroke-dasharray="1 1.4"/>
<line x1="418.84" y1="517.4" x2="418.84" y2="733.3" stroke="#a4a4a4" stroke-width="0.9" stroke-dasharray="1 1.4"/>
<line x1="459.3" y1="517.4" x2="459.3" y2="733.3" stroke="#a4a4a4" stroke-width="0.9" stroke-dasharray="1 1.4"/>
<line x1="499.75" y1="517.4" x2="499.75" y2="733.3" stroke="#a4a4a4" stroke-width="0.9" stroke-dasharray="1 1.4"/>
<line x1="322" y1="697.32" x2="540.2" y2="697.32" stroke="#a4a4a4" stroke-width="0.9" stroke-dasharray="1 1.4"/>
<line x1="322" y1="661.33" x2="540.2" y2="661.33" stroke="#a4a4a4" stroke-width="0.9" stroke-dasharray="1 1.4"/>
<line x1="322" y1="589.37" x2="540.2" y2="589.37" stroke="#a4a4a4" stroke-width="0.9" stroke-dasharray="1 1.4"/>
<line x1="322" y1="553.38" x2="540.2" y2="553.38" stroke="#a4a4a4" stroke-width="0.9" stroke-dasharray="1 1.4"/>
<line x1="322" y1="625.35" x2="540.2" y2="625.35" stroke="#bdbdbd" stroke-width="1.4"/>
<path d="M329.85 733.3v-2M329.85 517.4v2M346.03 733.3v-2M346.03 517.4v2M354.12 733.3v-2M354.12 517.4v2M362.21 733.3v-2M362.21 517.4v2M370.3 733.3v-2M370.3 517.4v2M386.48 733.3v-2M386.48 517.4v2M394.57 733.3v-2M394.57 517.4v2M402.66 733.3v-2M402.66 517.4v2M410.75 733.3v-2M410.75 517.4v2M426.93 733.3v-2M426.93 517.4v2M435.02 733.3v-2M435.02 517.4v2M443.11 733.3v-2M443.11 517.4v2M451.2 733.3v-2M451.2 517.4v2M467.39 733.3v-2M467.39 517.4v2M475.48 733.3v-2M475.48 517.4v2M483.57 733.3v-2M483.57 517.4v2M491.66 733.3v-2M491.66 517.4v2M507.84 733.3v-2M507.84 517.4v2M515.93 733.3v-2M515.93 517.4v2M524.02 733.3v-2M524.02 517.4v2M532.11 733.3v-2M532.11 517.4v2M322 724.3h2M540.2 724.3h-2M322 715.31h2M540.2 715.31h-2M322 706.31h2M540.2 706.31h-2M322 697.32h2M540.2 697.32h-2M322 688.32h2M540.2 688.32h-2M322 679.32h2M540.2 679.32h-2M322 670.33h2M540.2 670.33h-2M322 661.33h2M540.2 661.33h-2M322 652.34h2M540.2 652.34h-2M322 643.34h2M540.2 643.34h-2M322 634.35h2M540.2 634.35h-2M322 625.35h2M540.2 625.35h-2M322 616.35h2M540.2 616.35h-2M322 607.36h2M540.2 607.36h-2M322 598.36h2M540.2 598.36h-2M322 589.37h2M540.2 589.37h-2M322 580.37h2M540.2 580.37h-2M322 571.38h2M540.2 571.38h-2M322 562.38h2M540.2 562.38h-2M322 553.38h2M540.2 553.38h-2M322 544.39h2M540.2 544.39h-2M322 535.39h2M540.2 535.39h-2M322 526.4h2M540.2 526.4h-2" stroke="#707070" stroke-width="0.8" fill="none"/>
<rect x="322" y="517.4" width="218.2" height="215.9" fill="none" stroke="#939393" stroke-width="1.0"/>
<g clip-path="url(#clip_f)">
<polyline points="323.8,577.5 334.4,656.5 349.5,679.4 367.9,664.8 390.3,673.6 417.9,648.5 429.5,632.7 441.8,633.5 454.9,624.7 468.2,622.6 483.9,604.7 498.8,578.9 514.9,589.4 531.5,588.1" fill="none" stroke="#666" stroke-width="0.8"/>
<polyline points="323.8,623.3 334.4,588.6 349.5,558.7 367.9,536.2 390.3,563.9 417.9,578.5 429.5,581.5 441.8,601.4 454.9,612.7 468.3,631.5 483.9,637.8 498.6,634.6 515.1,669.1 531.8,691.1" fill="none" stroke="#4a4aff" stroke-width="0.65" stroke-dasharray="9 3 1.2 3"/>
<polyline points="323.8,623.3 334.4,602.2 349.5,580.2 367.9,555.6 390.3,573.3 417.9,570.2 429.5,564.6 441.8,576.3 454.9,578.5 468.2,588.3 483.9,583.7 498.8,570.8 514.9,594.2 531.5,605.8" fill="none" stroke="#ff4040" stroke-width="0.65" stroke-dasharray="5 4"/>
</g>
<circle cx="323.8" cy="577.5" r="1.9" fill="#fff" stroke="#707070" stroke-width="0.75"/>
<circle cx="334.4" cy="656.5" r="1.9" fill="#fff" stroke="#707070" stroke-width="0.75"/>
<circle cx="349.5" cy="679.4" r="1.9" fill="#fff" stroke="#707070" stroke-width="0.75"/>
<circle cx="367.9" cy="664.8" r="1.9" fill="#fff" stroke="#707070" stroke-width="0.75"/>
<circle cx="390.3" cy="673.6" r="1.9" fill="#fff" stroke="#707070" stroke-width="0.75"/>
<circle cx="417.9" cy="648.5" r="1.9" fill="#fff" stroke="#707070" stroke-width="0.75"/>
<circle cx="429.5" cy="632.7" r="1.9" fill="#fff" stroke="#707070" stroke-width="0.75"/>
<circle cx="441.8" cy="633.5" r="1.9" fill="#fff" stroke="#707070" stroke-width="0.75"/>
<circle cx="454.9" cy="624.7" r="1.9" fill="#fff" stroke="#707070" stroke-width="0.75"/>
<circle cx="468.2" cy="622.6" r="1.9" fill="#fff" stroke="#707070" stroke-width="0.75"/>
<circle cx="483.9" cy="604.7" r="1.9" fill="#fff" stroke="#707070" stroke-width="0.75"/>
<circle cx="498.8" cy="578.9" r="1.9" fill="#fff" stroke="#707070" stroke-width="0.75"/>
<circle cx="514.9" cy="589.4" r="1.9" fill="#fff" stroke="#707070" stroke-width="0.75"/>
<rect x="529.6" y="586.2" width="3.8" height="3.8" fill="#fff" stroke="#666" stroke-width="0.8"/>
<circle cx="323.8" cy="623.3" r="2.2" fill="#0000d8"/>
<circle cx="334.4" cy="588.6" r="2.2" fill="#0000d8"/>
<circle cx="349.5" cy="558.7" r="2.2" fill="#0000d8"/>
<circle cx="367.9" cy="536.2" r="2.2" fill="#0000d8"/>
<circle cx="390.3" cy="563.9" r="2.2" fill="#0000d8"/>
<circle cx="417.9" cy="578.5" r="2.2" fill="#0000d8"/>
<circle cx="429.5" cy="581.5" r="2.2" fill="#0000d8"/>
<circle cx="441.8" cy="601.4" r="2.2" fill="#0000d8"/>
<circle cx="454.9" cy="612.7" r="2.2" fill="#0000d8"/>
<circle cx="468.3" cy="631.5" r="2.2" fill="#0000d8"/>
<circle cx="483.9" cy="637.8" r="2.2" fill="#0000d8"/>
<circle cx="498.6" cy="634.6" r="2.2" fill="#0000d8"/>
<circle cx="515.1" cy="669.1" r="2.2" fill="#0000d8"/>
<circle cx="531.8" cy="691.1" r="2.2" fill="#0000d8"/>
<path d="M323.8 621.1L326 623.3L323.8 625.5L321.6 623.3Z" fill="#ff0000"/>
<path d="M334.4 600L336.6 602.2L334.4 604.4L332.2 602.2Z" fill="#ff0000"/>
<path d="M349.5 578L351.7 580.2L349.5 582.4L347.3 580.2Z" fill="#ff0000"/>
<path d="M367.9 553.4L370.1 555.6L367.9 557.8L365.7 555.6Z" fill="#ff0000"/>
<path d="M390.3 571.1L392.5 573.3L390.3 575.5L388.1 573.3Z" fill="#ff0000"/>
<path d="M417.9 568L420.1 570.2L417.9 572.4L415.7 570.2Z" fill="#ff0000"/>
<path d="M429.5 562.4L431.7 564.6L429.5 566.8L427.3 564.6Z" fill="#ff0000"/>
<path d="M441.8 574.1L444 576.3L441.8 578.5L439.6 576.3Z" fill="#ff0000"/>
<path d="M454.9 576.3L457.1 578.5L454.9 580.7L452.7 578.5Z" fill="#ff0000"/>
<path d="M468.2 586.1L470.4 588.3L468.2 590.5L466 588.3Z" fill="#ff0000"/>
<path d="M483.9 581.5L486.1 583.7L483.9 585.9L481.7 583.7Z" fill="#ff0000"/>
<path d="M498.8 568.6L501 570.8L498.8 573L496.6 570.8Z" fill="#ff0000"/>
<path d="M514.9 592L517.1 594.2L514.9 596.4L512.7 594.2Z" fill="#ff0000"/>
<path d="M531.5 603.6L533.7 605.8L531.5 608L529.3 605.8Z" fill="#ff0000"/>
<line x1="326.5" y1="607.36" x2="536.8" y2="607.36" stroke="#000" stroke-width="1.8" stroke-dasharray="6.22 3.5"/>
<line x1="326.5" y1="643.34" x2="536.8" y2="643.34" stroke="#000" stroke-width="1.8" stroke-dasharray="6.22 3.5"/>
<rect x="341.6" y="695.5" width="96.9" height="31.7" fill="#fff" stroke="#3a3a3a" stroke-width="1.3"/>
<line x1="346" y1="703.4" x2="367.5" y2="703.4" stroke="#7c7c7c" stroke-width="0.8"/>
<circle cx="357" cy="703.4" r="1.8" fill="#fff" stroke="#707070" stroke-width="0.85"/>
<line x1="351" y1="711.8" x2="366" y2="711.8" stroke="#4a4aff" stroke-width="0.8" stroke-dasharray="2 1 12 0"/>
<circle cx="357" cy="711.8" r="2.1" fill="#0000d8"/>
<line x1="351" y1="720.5" x2="366" y2="720.5" stroke="#ff4040" stroke-width="0.8" stroke-dasharray="7 3 5 0"/>
<path d="M357 718.5L359 720.5L357 722.5L355 720.5Z" fill="#ff0000"/>
<text x="369.3" y="705.9" font-size="7.4" fill="#111" stroke="#111" style="stroke-width:0.1px">Jain <tspan font-style="italic">et al.</tspan> (1971)</text>
<text x="369.3" y="714.3" font-size="7.4" fill="#2020e8" stroke="#2020e8" style="stroke-width:0.05px">Eq. (71)</text>
<text x="369.3" y="723" font-size="7.4" fill="#ff1010" stroke="#ff1010" style="stroke-width:0.05px">Non-ext. formulation</text>
<text x="517.2" y="536.1" font-size="9.6" font-weight="bold" text-anchor="middle" fill="#111" stroke="#111">(f)</text>
<text x="371" y="636.6" font-size="7.2" fill="#333" stroke="#333">subregion D</text>
<text x="316" y="736.3" font-size="8.3" text-anchor="end" fill="#111" stroke="#111">-0.6</text>
<text x="316" y="700.32" font-size="8.3" text-anchor="end" fill="#111" stroke="#111">-0.4</text>
<text x="316" y="664.33" font-size="8.3" text-anchor="end" fill="#111" stroke="#111">-0.2</text>
<text x="316" y="628.35" font-size="8.3" text-anchor="end" fill="#111" stroke="#111">0</text>
<text x="316" y="592.37" font-size="8.3" text-anchor="end" fill="#111" stroke="#111">0.2</text>
<text x="316" y="556.38" font-size="8.3" text-anchor="end" fill="#111" stroke="#111">0.4</text>
<text x="316" y="520.4" font-size="8.3" text-anchor="end" fill="#111" stroke="#111">0.6</text>
<text x="337.94" y="746.1" font-size="8.3" text-anchor="middle" fill="#111" stroke="#111">50</text>
<text x="378.39" y="746.1" font-size="8.3" text-anchor="middle" fill="#111" stroke="#111">100</text>
<text x="418.84" y="746.1" font-size="8.3" text-anchor="middle" fill="#111" stroke="#111">150</text>
<text x="459.3" y="746.1" font-size="8.3" text-anchor="middle" fill="#111" stroke="#111">200</text>
<text x="499.75" y="746.1" font-size="8.3" text-anchor="middle" fill="#111" stroke="#111">250</text>
<text x="540.2" y="746.1" font-size="8.3" text-anchor="middle" fill="#111" stroke="#111">300</text>
<text x="430.4" y="762.9" font-size="8.3" text-anchor="middle" fill="#111" stroke="#111"><tspan font-style="italic">P</tspan> (bar)</text>
<text transform="translate(294.5,623.2) rotate(-90)" font-size="8.45" text-anchor="middle" fill="#111" stroke="#111">100 Δ<tspan font-style="italic">V</tspan></text>
<line x1="322" y1="738.3" x2="322" y2="744.8" stroke="#777" stroke-width="0.6"/>
<path d="M322 733.9L324.1 739.3L322 738.3L319.9 739.3Z" fill="#111"/>
<text x="314.1" y="749.8" font-size="7.4" font-style="italic" fill="#111" stroke="#111">P</text>
<text x="318.8" y="753.8" font-size="4.8" fill="#111" stroke="#111" style="stroke-width:0.25px">sat</text>
</svg>
</body></html>
